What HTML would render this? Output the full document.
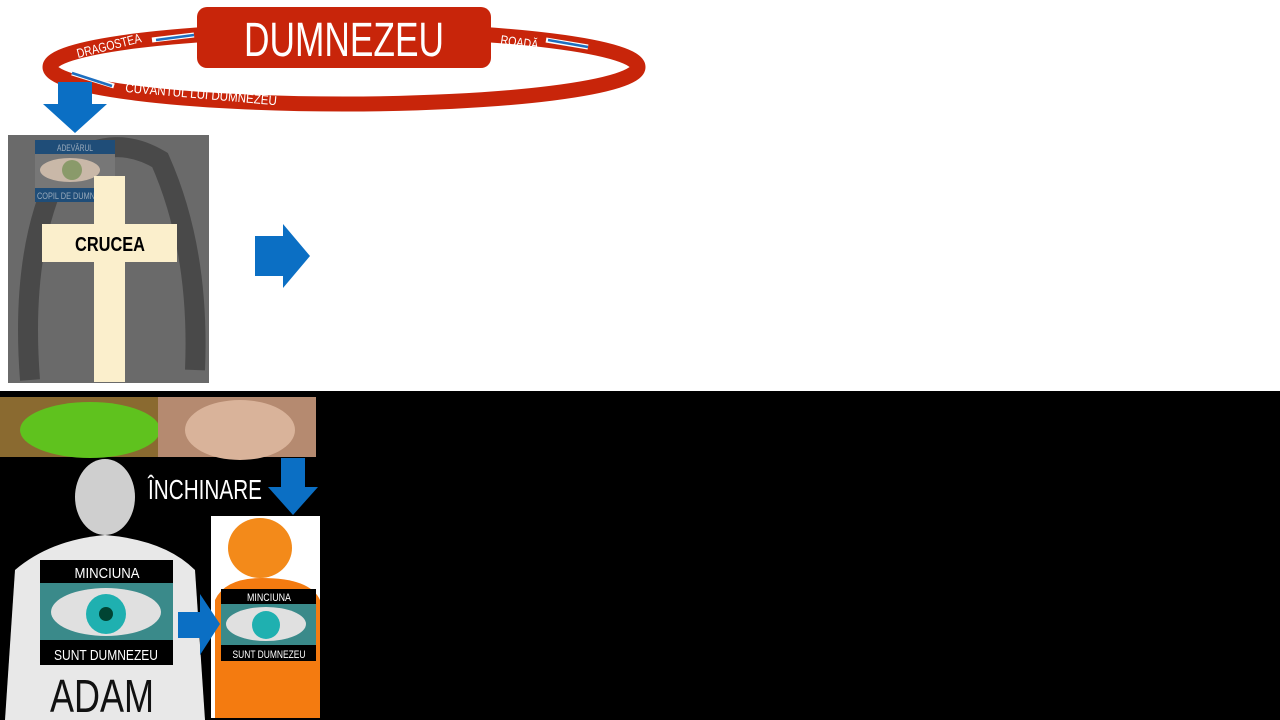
<!DOCTYPE html>
<html><head><meta charset="utf-8"><style>
body{margin:0;width:1280px;height:720px;overflow:hidden;background:#fff;position:relative;font-family:"Liberation Sans",sans-serif}
.a{position:absolute}
</style></head><body>
<svg class="a" style="left:0;top:0" width="1280" height="720" font-family="Liberation Sans,sans-serif">
<ellipse cx="344" cy="67" rx="294" ry="37" fill="none" stroke="#c8250a" stroke-width="15"/>
<rect x="197" y="7" width="294" height="61" rx="10" fill="#c8250a"/>
<text x="344" y="56" text-anchor="middle" fill="#fff" font-size="48" textLength="200" lengthAdjust="spacingAndGlyphs">DUMNEZEU</text>
<text x="78" y="58" fill="#fff" font-size="13" transform="rotate(-14 78 58)" textLength="66" lengthAdjust="spacingAndGlyphs">DRAGOSTEA</text>
<text x="500" y="44" fill="#fff" font-size="13" transform="rotate(8 500 44)" textLength="38" lengthAdjust="spacingAndGlyphs">ROADĂ</text>
<text x="125" y="92" fill="#fff" font-size="13" transform="rotate(5 125 92)" textLength="152" lengthAdjust="spacingAndGlyphs">CUVÂNTUL LUI DUMNEZEU</text>
<line x1="194" y1="35" x2="152" y2="40" stroke="#fff" stroke-width="5"/><line x1="194" y1="35" x2="156" y2="40" stroke="#1e6fc0" stroke-width="2.5"/>
<line x1="588" y1="47" x2="546" y2="40" stroke="#fff" stroke-width="5"/><line x1="588" y1="47" x2="548" y2="40" stroke="#1e6fc0" stroke-width="2.5"/>
<line x1="72" y1="73" x2="114" y2="86" stroke="#fff" stroke-width="5"/><line x1="72" y1="73" x2="112" y2="86" stroke="#1e6fc0" stroke-width="2.5"/>
<polygon points="58,82 92,82 92,104 107,104 75,133 43,104 58,104" fill="#0b6fc4"/>
<rect x="8" y="135" width="201" height="248" fill="#6a6a6a"/>
<path d="M30 380 Q20 250 60 170 Q110 130 160 160 Q200 250 195 370" fill="none" stroke="#333" stroke-width="20" opacity=".6"/>
<rect x="35" y="140" width="80" height="62" fill="#777"/>
<rect x="35" y="140" width="80" height="14" fill="#1f4d78"/>
<rect x="35" y="188" width="80" height="14" fill="#1f4d78"/>
<ellipse cx="70" cy="170" rx="30" ry="12" fill="#c9b8a8"/><circle cx="72" cy="170" r="10" fill="#8a9a6a"/>
<text x="75" y="151" text-anchor="middle" fill="#9ab" font-size="9" textLength="36" lengthAdjust="spacingAndGlyphs">ADEVĂRUL</text>
<text x="37" y="199" fill="#9ab" font-size="9" textLength="58" lengthAdjust="spacingAndGlyphs">COPIL DE DUMN</text>
<rect x="94" y="176" width="31" height="206" fill="#fbefcc"/>
<rect x="42" y="224" width="135" height="38" fill="#fbefcc"/>
<text x="110" y="251" text-anchor="middle" font-weight="bold" font-size="20" textLength="70" lengthAdjust="spacingAndGlyphs">CRUCEA</text>
<polygon points="255,236 283,236 283,224 310,256 283,288 283,276 255,276" fill="#0b6fc4"/>
<rect x="0" y="391" width="1280" height="329" fill="#000"/>
<rect x="0" y="397" width="158" height="60" fill="#8a6a30"/>
<ellipse cx="90" cy="430" rx="70" ry="28" fill="#5fc21e"/>
<rect x="158" y="397" width="158" height="60" fill="#b58a70"/>
<ellipse cx="240" cy="430" rx="55" ry="30" fill="#d9b39a"/>
<ellipse cx="105" cy="497" rx="30" ry="38" fill="#cfcfcf"/>
<path d="M5 720 L15 570 Q50 540 105 535 Q165 540 195 570 L205 720Z" fill="#e8e8e8"/>
<rect x="40" y="560" width="133" height="105" fill="#000"/>
<rect x="40" y="583" width="133" height="57" fill="#3a8a8a"/>
<ellipse cx="106" cy="612" rx="55" ry="24" fill="#e0e0e0"/><circle cx="106" cy="614" r="20" fill="#1fb0b0"/><circle cx="106" cy="614" r="7" fill="#043"/>
<text x="107" y="578" text-anchor="middle" fill="#fff" font-size="15" textLength="65" lengthAdjust="spacingAndGlyphs">MINCIUNA</text>
<text x="106" y="660" text-anchor="middle" fill="#fff" font-size="15" textLength="104" lengthAdjust="spacingAndGlyphs">SUNT DUMNEZEU</text>
<text x="102" y="712" text-anchor="middle" fill="#111" font-size="46" textLength="104" lengthAdjust="spacingAndGlyphs">ADAM</text>
<text x="205" y="499" text-anchor="middle" fill="#fff" font-size="28" textLength="114" lengthAdjust="spacingAndGlyphs">ÎNCHINARE</text>
<polygon points="281,458 305,458 305,487 318,487 293,515 268,487 281,487" fill="#0b6fc4"/>
<rect x="211" y="516" width="109" height="202" fill="#fff"/>
<ellipse cx="260" cy="548" rx="32" ry="30" fill="#f38a1a"/>
<path d="M215 718 L215 600 Q225 578 262 578 Q310 578 320 600 L320 718Z" fill="#f47b10"/>
<rect x="221" y="589" width="95" height="72" fill="#000"/>
<rect x="221" y="604" width="95" height="41" fill="#3a8a8a"/>
<ellipse cx="266" cy="624" rx="40" ry="17" fill="#e0e0e0"/><circle cx="266" cy="625" r="14" fill="#1fb0b0"/>
<text x="269" y="601" text-anchor="middle" fill="#fff" font-size="11" textLength="44" lengthAdjust="spacingAndGlyphs">MINCIUNA</text>
<text x="269" y="658" text-anchor="middle" fill="#fff" font-size="11" textLength="73" lengthAdjust="spacingAndGlyphs">SUNT DUMNEZEU</text>
<polygon points="178,612 200,612 200,594 220,624 200,655 200,638 178,638" fill="#0b6fc4"/>
</svg>
</body></html>
